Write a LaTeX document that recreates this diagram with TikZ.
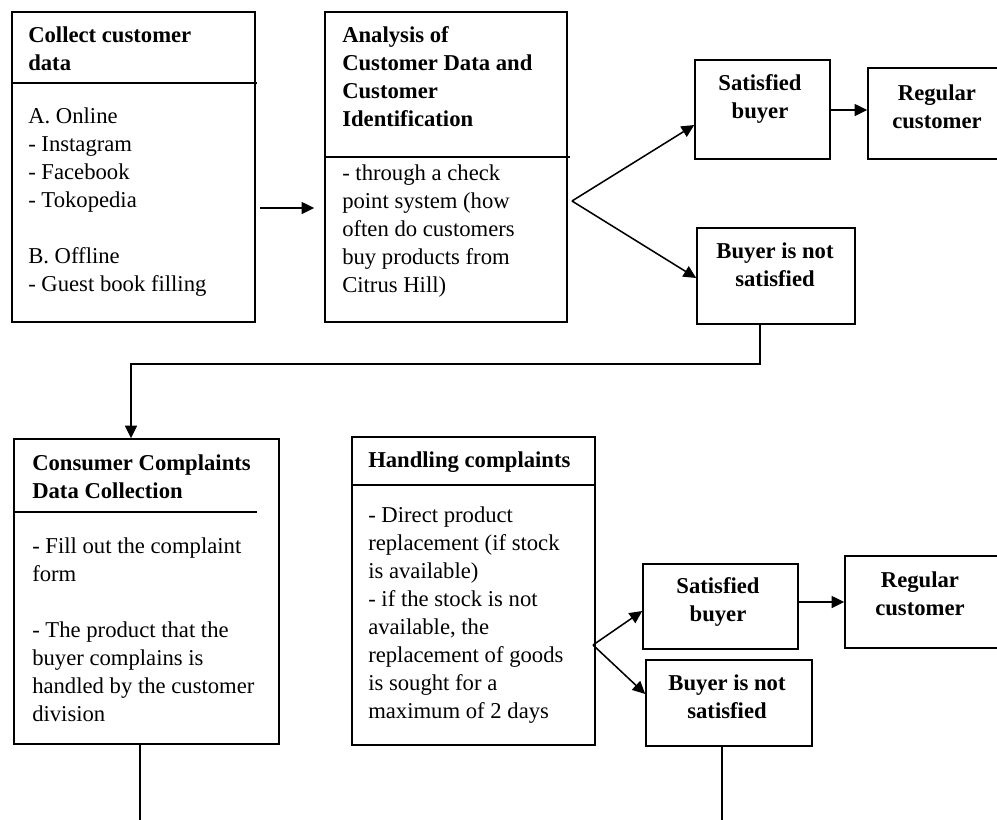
\documentclass[tikz,border=0pt]{standalone}
\usepackage{fontspec}
\setmainfont{Liberation Serif}
\usetikzlibrary{arrows.meta,fit}
\begin{document}
\begin{tikzpicture}[x=0.75pt,y=-0.75pt,
  box/.style={draw, line width=1.15pt, inner sep=0pt, rectangle},
  conn/.style={line width=1.15pt},
  arr/.style={conn, -{Triangle[length=9.5pt,width=9pt]}},
  ttl/.style={inner sep=0pt, anchor=base west, font=\fontsize{17}{21}\selectfont\bfseries},
  bdy/.style={inner sep=0pt, anchor=base west, font=\fontsize{17}{21}\selectfont},
  ctr/.style={inner sep=0pt, anchor=base, font=\fontsize{17}{21}\selectfont\bfseries}]
\useasboundingbox (0,0) rectangle (997,819);
\clip (0,0) rectangle (997,819);

% ---- boxes
\node[box, fit={(12,12) (255,322)}] (b1) {};
\node[box, fit={(325,12) (567,322)}] (b2) {};
\node[box, fit={(695,60) (830,159)}] (sb1) {};
\node[box, fit={(868,68) (1010,159)}] (rc1) {};
\node[box, fit={(697,228) (855,324)}] (bns1) {};
\node[box, fit={(14,439) (279,744)}] (b3) {};
\node[box, fit={(352,437) (595,745)}] (b4) {};
\node[box, fit={(643,564) (798,649)}] (sb2) {};
\node[box, fit={(845,556) (1010,648)}] (rc2) {};
\node[box, fit={(646,660) (812,746)}] (bns2) {};

% ---- dividers
\draw[conn] (b1.west |- 0,83) -- (257,83);
\draw[conn] (b2.west |- 0,157) -- (570,157);
\draw[conn] (b3.west |- 0,512) -- (257,512);
\draw[conn] (b4.west |- 0,485) -- (b4.east |- 0,485);

% ---- texts
\node[ttl] (t1a) at (28,42) {\begin{tabular}[t]{@{}l@{}}Collect customer\\data\end{tabular}};
\node[bdy] (t1b) at (28,123) {\begin{tabular}[t]{@{}l@{}}A. Online\\- Instagram\\- Facebook\\- Tokopedia\\ \\B. Offline\\- Guest book filling\end{tabular}};
\node[ttl] (t2a) at (342,42) {\begin{tabular}[t]{@{}l@{}}Analysis of\\Customer Data and\\Customer\\Identification\end{tabular}};
\node[bdy] (t2b) at (342,180) {\begin{tabular}[t]{@{}l@{}}- through a check\\point system (how\\often do customers\\buy products from\\Citrus Hill)\end{tabular}};
\node[ttl] (t3a) at (32,470) {\begin{tabular}[t]{@{}l@{}}Consumer Complaints\\Data Collection\end{tabular}};
\node[bdy] (t3b) at (32,553) {\begin{tabular}[t]{@{}l@{}}- Fill out the complaint\\form\\ \\- The product that the\\buyer complains is\\handled by the customer\\division\end{tabular}};
\node[ttl] (t4a) at (368,467) {Handling complaints};
\node[bdy] (t4b) at (368,522) {\begin{tabular}[t]{@{}l@{}}- Direct product\\replacement (if stock\\is available)\\- if the stock is not\\available, the\\replacement of goods\\is sought for a\\maximum of 2 days\end{tabular}};
\node[ctr] (tsb1) at (760,90) {\begin{tabular}[t]{@{}c@{}}Satisfied\\buyer\end{tabular}};
\node[ctr] (trc1) at (937,100) {\begin{tabular}[t]{@{}c@{}}Regular\\customer\end{tabular}};
\node[ctr] (tbns1) at (775,258) {\begin{tabular}[t]{@{}c@{}}Buyer is not\\satisfied\end{tabular}};
\node[ctr] (tsb2) at (718,593) {\begin{tabular}[t]{@{}c@{}}Satisfied\\buyer\end{tabular}};
\node[ctr] (trc2) at (920,587) {\begin{tabular}[t]{@{}c@{}}Regular\\customer\end{tabular}};
\node[ctr] (tbns2) at (727,690) {\begin{tabular}[t]{@{}c@{}}Buyer is not\\satisfied\end{tabular}};

% ---- connectors
\draw[arr, shorten <=3pt, shorten >=7.5pt] (b1.east |- 0,208) -- (b2.west |- 0,208);
\coordinate (br1) at (572,201);
\draw[arr] (br1) -- (sb1.west |- 0,125);
\draw[arr] (br1) -- (bns1.west |- 0,278);
\draw[arr] (sb1.east |- 0,110) -- (rc1.west |- 0,110);
\draw[arr] (bns1.south -| 760,0) |- (131,364) -- (b3.north -| 131,0);
\draw[conn] (b3.south -| 140,0) -- (140,825);
\coordinate (br2) at (593,645);
\draw[arr] (br2) -- (sb2.west |- 0,611);
\draw[arr] (br2) -- (bns2.west |- 0,694);
\draw[arr] (sb2.east |- 0,602) -- (rc2.west |- 0,602);
\draw[conn] (bns2.south -| 722,0) -- (722,825);
\end{tikzpicture}
\end{document}
